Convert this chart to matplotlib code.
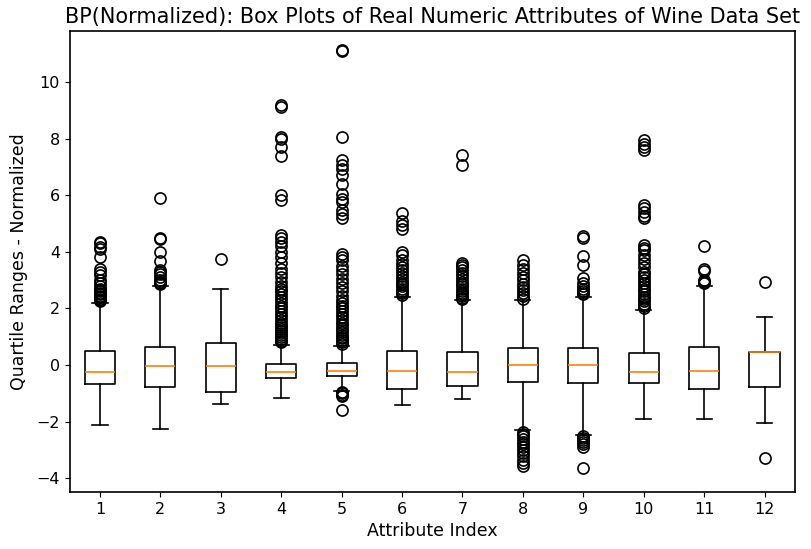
import matplotlib
matplotlib.use("Agg")
import matplotlib.pyplot as plt

# Attribute index 1..12 (red wine data, z-score normalized)
attr_idx = [1, 2, 3, 4, 5, 6, 7, 8, 9, 10, 11, 12]
q1 = [-0.66, -0.76, -0.94, -0.46, -0.37, -0.86, -0.73, -0.59, -0.62, -0.62, -0.86, -0.79]
med = [-0.23, -0.05, -0.05, -0.23, -0.20, -0.20, -0.23, 0.00, 0.00, -0.23, -0.21, 0.45]
q3 = [0.51, 0.65, 0.79, 0.04, 0.08, 0.51, 0.47, 0.62, 0.62, 0.44, 0.64, 0.45]
whis_lo = [-2.13, -2.26, -1.38, -1.16, -0.92, -1.41, -1.20, -2.29, -2.47, -1.90, -1.90, -2.03]
whis_hi = [2.21, 2.79, 2.67, 0.72, 0.68, 2.41, 2.29, 2.29, 2.41, 1.94, 2.80, 1.69]

fliers_1 = [2.27, 2.3, 2.35, 2.4, 2.45, 2.5, 2.55, 2.6, 2.65, 2.7, 2.8, 2.9, 3.0,
            3.18, 3.3, 3.4, 3.83, 4.1, 4.18, 4.3, 4.36]
fliers_2 = [2.85, 2.9, 2.95, 3.0, 3.1, 3.2, 3.3, 3.35, 3.67, 4.0, 4.45, 4.5, 5.9]
fliers_3 = [3.73]
fliers_4 = [0.8, 0.86, 0.93, 1.0, 1.07, 1.14, 1.22, 1.29, 1.36, 1.43, 1.5, 1.6, 1.7,
            1.8, 1.9, 2.0, 2.1, 2.2, 2.3, 2.4, 2.5, 2.6, 2.7, 2.8, 2.95, 3.1, 3.25,
            3.4, 3.6, 3.8, 4.0, 4.2, 4.35, 4.5, 4.6, 5.83, 6.0, 7.37, 7.71, 8.0,
            8.04, 9.12, 9.18]
fliers_5 = [-1.59, -1.1, -1.05, -1.0, -0.95, 0.74, 0.8, 0.87, 0.94, 1.0, 1.08,
            1.16, 1.24, 1.32, 1.4, 1.5, 1.6, 1.7, 1.8, 1.9, 2.0, 2.1, 2.2, 2.3,
            2.45, 2.6, 2.75, 2.9, 3.05, 3.2, 3.35, 3.5, 3.7, 3.8, 3.94, 5.18, 5.35,
            5.47, 5.77, 5.88, 6.06, 6.41, 6.71, 6.94, 7.06, 7.24, 8.04, 11.1, 11.14]
fliers_6 = [2.48, 2.55, 2.62, 2.7, 2.78, 2.86, 2.95, 3.05, 3.15, 3.25, 3.35, 3.45,
            3.58, 3.7, 3.9, 4.0, 4.8, 4.95, 5.1, 5.37]
fliers_7 = [2.33, 2.38, 2.44, 2.5, 2.56, 2.62, 2.7, 2.78, 2.86, 2.95, 3.05, 3.15,
            3.25, 3.35, 3.45, 3.55, 3.62, 7.06, 7.41]
fliers_8 = [-3.55, -3.45, -3.35, -3.2, -3.1, -3.0, -2.9, -2.8, -2.7, -2.6, -2.5,
            -2.42, -2.35, 2.35, 2.45, 2.55, 2.65, 2.75, 2.88, 3.0, 3.12, 3.25, 3.4,
            3.55, 3.7]
fliers_9 = [-3.65, -2.9, -2.8, -2.72, -2.65, -2.58, -2.52, 2.5, 2.56, 2.62, 2.7,
            2.8, 2.9, 3.06, 3.53, 3.85, 4.5, 4.55]
fliers_10 = [2.0, 2.08, 2.16, 2.25, 2.33, 2.42, 2.5, 2.6, 2.7, 2.8, 2.9, 3.0, 3.1,
             3.2, 3.3, 3.45, 3.6, 3.75, 3.9, 4.05, 4.15, 4.25, 5.2, 5.28, 5.4,
             5.55, 5.65, 7.58, 7.71, 7.82, 7.94]
fliers_11 = [2.9, 2.95, 3.0, 3.33, 3.39, 4.22]
fliers_12 = [-3.27, 2.94]

flier_lists = [fliers_1, fliers_2, fliers_3, fliers_4, fliers_5, fliers_6,
               fliers_7, fliers_8, fliers_9, fliers_10, fliers_11, fliers_12]

stats = []
for i in range(len(attr_idx)):
    stats.append({
        'label': str(attr_idx[i]),
        'med': med[i], 'q1': q1[i], 'q3': q3[i],
        'whislo': whis_lo[i], 'whishi': whis_hi[i],
        'fliers': flier_lists[i],
    })

fig, ax = plt.subplots(figsize=(8.11, 5.49), dpi=100)
fig.subplots_adjust(left=0.086, right=0.980, top=0.9435, bottom=0.104)

ax.bxp(stats, positions=attr_idx, widths=0.5,
       flierprops=dict(marker='o', markerfacecolor='none', markeredgecolor='black',
                       markersize=8, markeredgewidth=1.2),
       boxprops=dict(linewidth=1.2), whiskerprops=dict(linewidth=1.2),
       capprops=dict(linewidth=1.2), medianprops=dict(color='#ff7f0e', linewidth=1.2))

ax.set_ylim(-4.48, 11.8)
ax.set_yticks([-4, -2, 0, 2, 4, 6, 8, 10])
ax.tick_params(labelsize=11.5)
for s in ax.spines.values():
    s.set_linewidth(1.2)
ax.set_title('BP(Normalized): Box Plots of Real Numeric Attributes of Wine Data Set', fontsize=15)
ax.set_xlabel('Attribute Index', fontsize=12.5, labelpad=4)
ax.set_ylabel('Quartile Ranges - Normalized', fontsize=12.5, labelpad=6)

fig.savefig('out.png', dpi=100)
